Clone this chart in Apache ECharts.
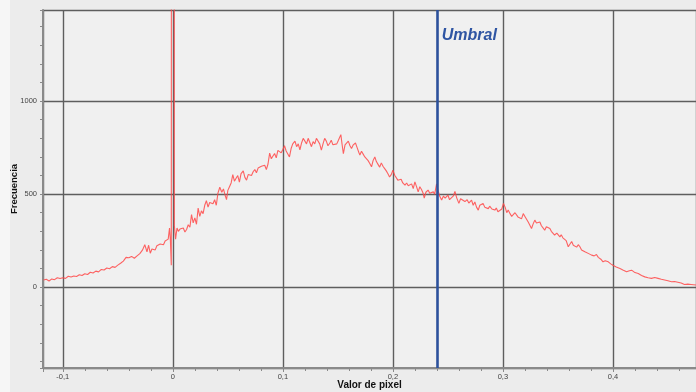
<!DOCTYPE html>
<html>
<head>
<meta charset="utf-8">
<script src="https://cdn.jsdelivr.net/npm/echarts@6/dist/echarts.min.js"></script>
<style>
  html, body { margin: 0; padding: 0; background: #ececec; }
  #chart { width: 696px; height: 392px; }
</style>
</head>
<body>
<div id="chart"></div>
<script>
// Histogram of pixel values: [valor de pixel, frecuencia]
const histogram = [
  [-0.1175,38],[-0.115,42],[-0.1125,33],[-0.11,44],[-0.1075,40],[-0.105,50],[-0.1025,46],[-0.1,50],
  [-0.0975,47],[-0.095,58],[-0.0925,54],[-0.09,60],[-0.0875,57],[-0.085,66],[-0.0825,62],[-0.08,72],
  [-0.0775,68],[-0.075,80],[-0.0725,76],[-0.07,86],[-0.0675,82],[-0.065,95],[-0.0625,92],[-0.06,103],
  [-0.0575,99],[-0.055,110],[-0.0525,106],[-0.05,118],[-0.0475,128],[-0.045,140],[-0.0425,160],[-0.04,158],
  [-0.0375,165],[-0.035,155],[-0.0325,168],[-0.03,180],[-0.0275,200],[-0.0255,228],[-0.0235,190],[-0.022,225],
  [-0.0205,182],[-0.019,205],[-0.0175,215],[-0.016,200],[-0.0145,222],[-0.013,215],[-0.0115,232],[-0.01,238],
  [-0.0085,228],[-0.007,248],[-0.0055,242],[-0.0042,258],[-0.003,318],[-0.0022,250],[-0.0014,118],
  [0,30000],
  [0.0014,330],[0.0025,258],[0.0038,318],[0.005,300],[0.0065,312],[0.008,305],[0.0095,318],[0.011,296],
  [0.0125,310],[0.014,335],[0.0155,322],[0.017,390],[0.0185,345],[0.02,372],[0.0215,338],[0.023,425],
  [0.0245,380],[0.026,410],[0.0275,395],[0.029,440],[0.0305,465],[0.032,430],[0.0335,455],[0.035,462],
  [0.0365,448],[0.038,470],[0.0395,440],[0.041,505],[0.0427,537],[0.0445,510],[0.046,528],[0.0475,495],
  [0.0488,470],[0.05,520],[0.0515,540],[0.053,560],[0.0545,605],[0.056,570],[0.0575,585],[0.059,600],
  [0.0605,565],[0.062,610],[0.064,625],[0.0655,590],[0.067,575],[0.0685,605],[0.07,615],[0.0715,600],
  [0.073,620],[0.0745,632],[0.076,615],[0.0775,640],[0.079,630],[0.0805,650],[0.082,640],[0.0835,655],
  [0.085,632],[0.0865,662],[0.088,720],[0.0895,690],[0.091,705],[0.0925,718],[0.094,695],[0.0955,735],
  [0.097,745],[0.0985,722],[0.1,740],[0.1015,760],[0.103,732],[0.1045,742],[0.106,700],[0.1075,745],
  [0.109,770],[0.111,785],[0.1125,755],[0.114,770],[0.1155,738],[0.117,775],[0.1185,800],[0.12,790],
  [0.1215,770],[0.123,800],[0.1245,792],[0.126,755],[0.1275,782],[0.129,770],[0.1305,800],[0.132,790],
  [0.1335,770],[0.135,736],[0.1365,770],[0.138,800],[0.1395,785],[0.141,760],[0.1427,775],[0.144,790],
  [0.1455,765],[0.147,760],[0.149,770],[0.1505,790],[0.1527,820],[0.154,760],[0.155,718],[0.1565,765],
  [0.158,762],[0.1595,785],[0.161,760],[0.1624,745],[0.164,765],[0.166,775],[0.1675,750],[0.169,725],
  [0.17,710],[0.1715,730],[0.173,715],[0.1745,700],[0.176,702],[0.1775,680],[0.179,665],[0.1806,647],
  [0.182,680],[0.1836,700],[0.185,675],[0.1865,660],[0.188,645],[0.1895,668],[0.191,650],[0.1927,636],
  [0.194,625],[0.1955,610],[0.197,592],[0.1985,605],[0.2,628],[0.2018,600],[0.203,590],[0.2045,575],
  [0.206,566],[0.2075,580],[0.209,560],[0.211,548],[0.2125,560],[0.214,545],[0.2155,538],[0.217,555],
  [0.2185,530],[0.22,566],[0.2215,540],[0.223,512],[0.2245,540],[0.226,525],[0.2275,505],[0.2285,478],
  [0.23,510],[0.232,522],[0.2335,505],[0.235,515],[0.2367,512],[0.238,500],[0.2397,555],[0.241,520],
  [0.2425,490],[0.2443,468],[0.246,490],[0.2475,478],[0.2488,485],[0.25,495],[0.2515,470],[0.2533,468],
  [0.255,490],[0.2564,515],[0.258,480],[0.26,450],[0.2615,475],[0.263,470],[0.2655,460],[0.2675,470],
  [0.269,452],[0.2715,468],[0.273,440],[0.2745,458],[0.276,430],[0.2776,414],[0.279,440],[0.282,450],
  [0.2835,430],[0.285,440],[0.2867,422],[0.288,435],[0.29,420],[0.2927,414],[0.294,425],[0.2955,405],
  [0.2973,396],[0.299,420],[0.3005,450],[0.302,430],[0.3035,400],[0.3048,414],[0.3065,395],[0.308,380],
  [0.3094,378],[0.311,400],[0.3124,410],[0.314,375],[0.3155,385],[0.317,368],[0.3185,395],[0.32,380],
  [0.3215,390],[0.323,350],[0.3245,345],[0.326,315],[0.3275,340],[0.329,360],[0.3305,345],[0.332,355],
  [0.3336,350],[0.335,330],[0.3365,340],[0.338,306],[0.3395,325],[0.341,318],[0.3427,315],[0.344,300],
  [0.3455,310],[0.347,280],[0.349,290],[0.3518,270],[0.353,282],[0.3545,265],[0.356,268],[0.3575,250],
  [0.3594,217],[0.361,232],[0.3625,245],[0.364,225],[0.3655,235],[0.367,215],[0.3685,228],[0.37,217],
  [0.3715,200],[0.373,210],[0.3745,190],[0.376,195],[0.378,180],[0.3806,172],[0.383,168],[0.385,175],
  [0.3867,160],[0.389,150],[0.391,136],[0.393,142],[0.3958,136],[0.398,125],[0.4,118],[0.403,108],
  [0.4064,100],[0.409,92],[0.4124,82],[0.415,88],[0.417,91],[0.42,78],[0.423,73],[0.426,62],
  [0.429,55],[0.432,50],[0.435,47],[0.438,52],[0.441,47],[0.444,42],[0.447,38],[0.45,34],
  [0.4533,29],[0.456,30],[0.459,26],[0.462,22],[0.465,14],[0.468,16],[0.471,14],[0.4755,11]
];

// Threshold on the pixel-value axis
const threshold = 0.239;
const thresholdLabel = 'Umbral';

// Visible axis ranges
const xRange = [-0.118, 0.4755];
const yRange = [-435, 1490];

const chart = echarts.init(document.getElementById('chart'), null, { renderer: 'canvas' });

const gridLine = { show: true, lineStyle: { color: '#5e5e5e', width: 1.4 } };
const fmtDecimal = v => {
  const r = Math.round(v * 10) / 10;
  return String(r).replace('.', ',');
};

chart.setOption({
  backgroundColor: '#ececec',
  animation: false,
  grid: {
    left: 43, top: 10, right: 0, bottom: 24,
    containLabel: false,
    outerBoundsMode: 'none',
    show: true, backgroundColor: '#f0f0f0', borderWidth: 0
  },
  xAxis: {
    type: 'value',
    min: xRange[0], max: xRange[1],
    splitNumber: 5,
    name: 'Valor de pixel',
    nameLocation: 'middle',
    nameGap: 12,
    nameMoveOverlap: false,
    nameTextStyle: { fontFamily: 'Liberation Sans', fontWeight: 'bold', fontSize: 10, color: '#111' },
    axisLine: { show: true, onZero: false, lineStyle: { color: '#8a8a8a', width: 2 } },
    axisTick: { show: true, length: 4, lineStyle: { color: '#8a8a8a', width: 1 } },
    minorTick: { show: true, splitNumber: 5, length: 3, lineStyle: { color: '#8a8a8a', width: 1 } },
    axisLabel: {
      showMinLabel: false, showMaxLabel: false,
      fontFamily: 'Liberation Sans', fontSize: 7.5, color: '#444', margin: 5,
      formatter: fmtDecimal
    },
    splitLine: gridLine
  },
  yAxis: {
    type: 'value',
    min: yRange[0], max: yRange[1],
    splitNumber: 4,
    name: 'Frecuencia',
    nameLocation: 'middle',
    nameGap: 24,
    nameMoveOverlap: false,
    nameRotate: 90,
    nameTextStyle: { fontFamily: 'Liberation Sans', fontWeight: 'bold', fontSize: 9.5, color: '#111' },
    axisLine: { show: true, onZero: false, lineStyle: { color: '#8a8a8a', width: 2 } },
    axisTick: { show: true, length: 3, lineStyle: { color: '#8a8a8a', width: 1 } },
    minorTick: { show: true, splitNumber: 5, length: 3, lineStyle: { color: '#8a8a8a', width: 1 } },
    axisLabel: {
      showMinLabel: false, showMaxLabel: false,
      fontFamily: 'Liberation Sans', fontSize: 7.5, color: '#444', margin: 6,
      formatter: v => String(Math.round(v))
    },
    splitLine: gridLine
  },
  series: [{
    type: 'line',
    data: histogram,
    showSymbol: false,
    clip: true,
    lineStyle: { color: 'rgba(255,72,72,0.85)', width: 1.1 },
    z: 3,
    markLine: {
      silent: true,
      symbol: 'none',
      label: { show: false },
      lineStyle: { color: '#2c519c', width: 2.6, type: 'solid' },
      data: [{ xAxis: threshold }]
    }
  }]
});

// Threshold caption beside the top of the line
const pos = chart.convertToPixel({ xAxisIndex: 0, yAxisIndex: 0 }, [threshold, 1355]);
chart.setOption({
  graphic: [
    { type: 'rect', left: 0, top: 0, shape: { width: 10, height: 392 }, style: { fill: '#f6f6f6' }, z: -1 },
    {
      type: 'text',
      x: pos[0] + 6, y: pos[1],
      style: {
        text: thresholdLabel,
        fill: '#2f55a3',
        font: 'italic bold 16px "Liberation Sans"',
        textVerticalAlign: 'middle'
      },
      z: 10
    }
  ]
});
</script>
</body>
</html>
